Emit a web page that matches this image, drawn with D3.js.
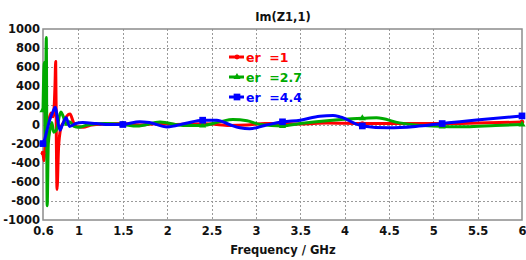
<!DOCTYPE html>
<html>
<head>
<meta charset="utf-8">
<script src="https://cdn.jsdelivr.net/npm/d3@7"></script>
<style>
  body { margin: 0; background: #fff; }
  svg { display: block; font-family: "DejaVu Sans", Verdana, sans-serif; }
</style>
</head>
<body>
<svg id="chart" width="526" height="260"></svg>
<script>
// frequency (GHz) / Im(Z1,1) readings for each er
const freqEr1 = [0.6, 0.61, 0.63, 0.66, 0.69, 0.715, 0.735, 0.743, 0.75, 0.758, 0.775, 0.8, 0.83, 0.87, 0.905, 0.94, 0.97, 1.05, 1.15, 1.3, 1.5, 1.7, 1.9, 2.1, 2.4, 2.5, 2.7, 2.9, 3.1, 3.3, 3.5, 3.8, 4.2, 4.6, 5.1, 5.5, 6.0];
const imEr1   = [-300, -380, -150, 20, 120, 80, 400, 660, -100, -680, -250, -40, 20, 90, 110, 30, -20, -30, -5, 5, 10, -5, 10, 0, 8, 5, -10, -5, 10, 10, 5, 15, 10, 10, 10, 15, 25];

const freqEr27 = [0.6, 0.615, 0.625, 0.637, 0.647, 0.66, 0.68, 0.7, 0.72, 0.75, 0.8, 0.83, 0.86, 0.9, 0.95, 1.0, 1.1, 1.3, 1.5, 1.66, 1.92, 2.18, 2.4, 2.6, 2.74, 2.9, 3.05, 3.3, 3.5, 3.8, 3.96, 4.2, 4.36, 4.62, 4.99, 5.1, 5.37, 5.7, 6.0];
const imEr27   = [150, 650, -150, 910, -850, -200, -50, 20, -80, -60, 130, 80, 0, 30, -20, -30, -5, 10, 0, -17, 25, -10, -10, 30, 52, 40, 0, -15, 10, 40, 52, 65, 70, 17, -17, -20, -24, -10, 0];

const freqEr44 = [0.6, 0.62, 0.65, 0.68, 0.71, 0.74, 0.76, 0.79, 0.82, 0.86, 0.9, 0.93, 0.97, 1.05, 1.2, 1.35, 1.5, 1.69, 1.8, 2.0, 2.2, 2.4, 2.56, 2.7, 2.82, 2.93, 3.1, 3.3, 3.5, 3.72, 3.87, 3.95, 4.2, 4.5, 4.8, 5.1, 5.3, 5.55, 6.0];
const imEr44   = [-200, -150, -40, 60, 130, 180, 80, -60, 0, 70, -20, -10, 10, 20, 10, 0, 0, 30, 20, -25, 10, 45, 45, 0, -35, -45, -10, 28, 45, 87, 94, 80, -15, -35, -20, 10, 30, 52, 90];

const markerFreqs = [0.6, 1.5, 2.4, 3.3, 4.2, 5.1, 6.0];
const seriesNames = ["er  =1", "er  =2.7", "er  =4.4"];
const seriesColors = ["#ff0000", "#00aa00", "#0000ff"];
const seriesSymbols = [d3.symbolCircle, d3.symbolTriangle, d3.symbolSquare];
const seriesSymbolSizes = [18, 22, 45];

const xTicks = [0.6, 1, 1.5, 2, 2.5, 3, 3.5, 4, 4.5, 5, 5.5, 6];
const yTicks = d3.range(-1000, 1001, 200);

const series = [
  { freq: freqEr1, im: imEr1 },
  { freq: freqEr27, im: imEr27 },
  { freq: freqEr44, im: imEr44 }
].map((s, i) => ({
  name: seriesNames[i],
  color: seriesColors[i],
  symbol: seriesSymbols[i],
  size: seriesSymbolSizes[i],
  values: s.freq.map((f, j) => ({ f, v: s.im[j] }))
}));

const svg = d3.select("#chart");
const plotLeft = 43, plotRight = 522, plotTop = 29, plotBottom = 220;

const x = d3.scaleLinear().domain([0.6, 6]).range([plotLeft, plotRight]);
const y = d3.scaleLinear().domain([-1000, 1000]).range([plotBottom, plotTop]);

// grid
const grid = svg.append("g").attr("stroke", "#9a9a9a").attr("stroke-width", 1).attr("stroke-dasharray", "2,2");
grid.selectAll("line.v").data(xTicks.filter(t => t > 0.6 && t < 6)).join("line")
  .attr("x1", d => Math.round(x(d)) + 0.5).attr("x2", d => Math.round(x(d)) + 0.5)
  .attr("y1", plotTop).attr("y2", plotBottom);
grid.selectAll("line.h").data(yTicks.filter(t => t > -1000 && t < 1000)).join("line")
  .attr("x1", plotLeft).attr("x2", plotRight)
  .attr("y1", d => Math.round(y(d)) + 0.5).attr("y2", d => Math.round(y(d)) + 0.5);

// frame
svg.append("rect")
  .attr("x", plotLeft).attr("y", plotTop).attr("width", plotRight - plotLeft).attr("height", plotBottom - plotTop)
  .attr("fill", "none").attr("stroke", "#8c8c8c").attr("stroke-width", 1.5);

// axes
const xAxis = svg.append("g").attr("transform", `translate(0,${plotBottom})`)
  .call(d3.axisBottom(x).tickValues(xTicks).tickSize(0).tickPadding(7).tickFormat(d => String(d)));
const yAxis = svg.append("g").attr("transform", `translate(${plotLeft},0)`)
  .call(d3.axisLeft(y).tickValues(yTicks).tickSize(0).tickPadding(3).tickFormat(d => String(d)));
[xAxis, yAxis].forEach(a => {
  a.select(".domain").remove();
  a.selectAll("text")
    .attr("fill", "#111")
    .style("font-family", "'DejaVu Sans', Verdana, sans-serif")
    .style("font-size", "11.5px")
    .style("font-weight", "bold");
});

// lines
const line = d3.line().x(d => x(d.f)).y(d => y(d.v)).curve(d3.curveMonotoneX);
const plot = svg.append("g");
plot.selectAll("path.series").data(series).join("path")
  .attr("class", "series")
  .attr("d", d => line(d.values))
  .attr("fill", "none")
  .attr("stroke", d => d.color)
  .attr("stroke-width", 3)
  .attr("stroke-linejoin", "round");

// markers at the shared marker frequencies
series.forEach(s => {
  const pts = s.values.filter(p => markerFreqs.some(m => Math.abs(m - p.f) < 1e-9));
  plot.selectAll(null).data(pts).join("path")
    .attr("transform", p => `translate(${x(p.f)},${y(p.v)})`)
    .attr("d", d3.symbol().type(s.symbol).size(s.size))
    .attr("fill", s.color);
});

// legend
const legend = svg.append("g").selectAll("g").data(series).join("g")
  .attr("transform", (d, i) => `translate(229,${57 + i * 20})`);
legend.append("line")
  .attr("x1", 0).attr("x2", 15).attr("y1", 0).attr("y2", 0)
  .attr("stroke", d => d.color).attr("stroke-width", 3);
legend.append("path")
  .attr("transform", "translate(8,0)")
  .attr("d", d => d3.symbol().type(d.symbol).size(d.size)())
  .attr("fill", d => d.color);
legend.append("text")
  .attr("x", 17).attr("y", 4.5)
  .attr("fill", d => d.color)
  .style("white-space", "pre")
  .style("font-size", "12.5px")
  .style("font-weight", "bold")
  .text(d => d.name);

// title and axis label
svg.append("text").attr("x", 283).attr("y", 21).attr("text-anchor", "middle")
  .style("font-size", "11.5px").style("font-weight", "bold").attr("fill", "#111")
  .text("Im(Z1,1)");
svg.append("text").attr("x", 283).attr("y", 254).attr("text-anchor", "middle")
  .style("font-size", "11.5px").style("font-weight", "bold").attr("fill", "#111")
  .text("Frequency / GHz");
</script>
</body>
</html>
